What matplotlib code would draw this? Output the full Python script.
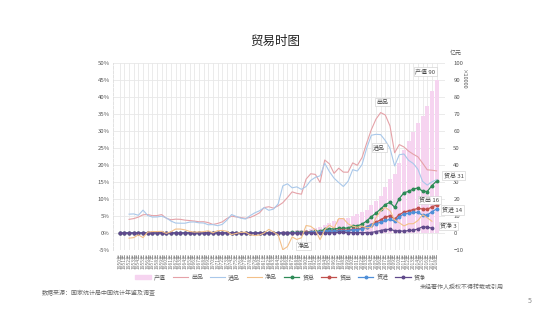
import numpy as np
import matplotlib
matplotlib.use("Agg")
import matplotlib.pyplot as plt
from matplotlib.ticker import FuncFormatter
from matplotlib.patches import Patch
from matplotlib.lines import Line2D

plt.rcParams['font.family'] = ['Noto Sans CJK SC', 'DejaVu Sans']

# years on the x axis
years = list(range(1950, 2019))

# GDP, 亿元 (no data before 1952)
gdp = [np.nan, np.nan,
       679.1, 824.4, 859.8, 911.6, 1030.7, 1071.4, 1312.3, 1447.5,
       1470.1, 1232.3, 1162.2, 1248.3, 1469.9, 1734.0, 1888.7, 1794.2, 1744.1, 1962.2,
       2279.7, 2456.9, 2552.4, 2756.2, 2827.7, 3039.5, 2988.6, 3250.0, 3678.7, 4100.5,
       4587.6, 4935.8, 5373.4, 6020.9, 7278.5, 9098.9, 10376.2, 12174.6, 15180.4, 17179.7,
       18872.9, 22005.6, 27194.5, 35673.2, 48637.5, 61339.9, 71813.6, 79715.0, 85195.5, 90564.4,
       100280.1, 110863.1, 121717.4, 137422.0, 161840.2, 187318.9, 219438.5, 270092.3, 319244.6, 348517.7,
       412119.3, 487940.2, 538580.0, 592963.2, 643563.1, 688858.2, 746395.1, 832035.9, 900309.5]

# exports, 亿元
exports = [20.2, 24.2, 27.1, 34.8, 40.0, 48.7, 55.7, 54.5, 67.0, 78.1,
           63.3, 47.7, 47.1, 50.0, 55.4, 63.1, 66.0, 58.8, 57.6, 59.8,
           56.8, 68.5, 82.9, 116.9, 139.4, 143.0, 134.8, 139.7, 167.6, 211.7,
           271.2, 367.6, 413.8, 438.3, 580.5, 808.9, 1082.1, 1470.0, 1766.7, 1956.0,
           2985.8, 3827.1, 4676.3, 5284.8, 10421.8, 12451.8, 12576.4, 15160.7, 15223.6, 16159.8,
           20634.4, 22024.4, 26947.9, 36287.9, 49103.3, 62648.1, 77597.2, 93563.6, 100394.9, 82029.7,
           107022.8, 123240.6, 129359.3, 137131.4, 143883.8, 141166.8, 138419.3, 153309.4, 164176.7]

# imports, 亿元
imports = [21.3, 35.3, 37.5, 46.1, 44.7, 61.1, 53.0, 50.0, 61.7, 71.2,
           65.1, 43.0, 33.8, 35.7, 42.1, 55.3, 61.1, 53.4, 50.9, 47.2,
           56.1, 52.4, 64.0, 103.6, 152.8, 147.4, 129.3, 132.8, 187.4, 242.9,
           298.8, 367.7, 357.5, 421.8, 620.5, 1257.8, 1498.3, 1614.2, 2055.1, 2199.9,
           2574.3, 3398.7, 4443.3, 5986.2, 9960.1, 11048.1, 11557.4, 11806.5, 11626.1, 13736.4,
           18638.8, 20159.2, 24430.3, 34195.6, 46435.8, 54273.7, 63376.9, 73300.1, 79526.5, 68618.4,
           94699.3, 113161.4, 114801.0, 121037.5, 120358.0, 104336.1, 104967.2, 124789.8, 140873.7]

gdp = np.array(gdp)
exports = np.array(exports)
imports = np.array(imports)
total = exports + imports
net = exports - imports
x = np.arange(len(years))
xn = x[:-1]  # net series stop at 2017

fig = plt.figure(figsize=(5.5, 3.09), dpi=100)
ax2 = fig.add_axes([0.205, 0.191, 0.604, 0.606])
ax = ax2.twinx()
ax.yaxis.tick_left()
ax.set_zorder(ax2.get_zorder() + 1)
ax.patch.set_visible(False)

ms = 1.8
# right axis: values in 万亿元
ax2.bar(x, gdp / 10000, width=0.85, color='#f6d4f0', zorder=1)
ax2.plot(x, total / 10000, color='#2e8b57', lw=0.9, marker='o', ms=ms, zorder=3)
ax2.plot(x, exports / 10000, color='#c0504d', lw=0.9, marker='o', ms=ms, zorder=3)
ax2.plot(x, imports / 10000, color='#4f8fd8', lw=0.9, marker='o', ms=ms, zorder=3)
ax2.plot(xn, net[:-1] / 10000, color='#604a8b', lw=0.9, marker='o', ms=ms, zorder=3)

# left axis: share of GDP
ax.plot(x, exports / gdp, color='#e5a2a8', lw=0.8)
ax.plot(x, imports / gdp, color='#a9c8ea', lw=0.8)
ax.plot(xn, net[:-1] / gdp[:-1], color='#f3c089', lw=0.8)

ax2.set_ylim(-10, 100)
ax2.set_yticks(range(-10, 101, 10))
ax.set_ylim(-0.05, 0.5)
ax.set_yticks(np.arange(-0.05, 0.501, 0.05))
ax.yaxis.set_major_formatter(FuncFormatter(lambda v, p: f'{v*100:.0f}%'))
ax2.yaxis.tick_right()
ax2.set_xlim(-1.5, 69.8)
ax2.set_xticks(x)
ax2.set_xticklabels([f'{y}年' for y in years], rotation=90, fontsize=3.6, color='#777777')
ax2.grid(True, color='#e8e8e8', lw=0.6)
ax2.set_axisbelow(True)

for a in (ax, ax2):
    for s in a.spines.values():
        s.set_visible(False)
    a.tick_params(length=0, pad=2)
ax.spines['left'].set_visible(True)
ax.spines['left'].set_color('#dddddd')
ax.spines['left'].set_linestyle('--')
ax.spines['left'].set_linewidth(0.6)
ax.tick_params(axis='y', labelsize=4.3, labelcolor='#555555')
ax2.tick_params(axis='y', labelsize=4.3, labelcolor='#555555', pad=6)

box = dict(boxstyle='square,pad=0.25', fc='white', ec='#cccccc', lw=0.4)
lab = dict(fontsize=4.3, color='#444444', ha='center', va='center', bbox=box)
ax2.text(65.6, 95, '产值 90', **lab)
ax.text(56.4, 0.384, '出品', **lab)
ax.text(55.7, 0.252, '进品', **lab)
ax.text(39.4, -0.038, '净品', **lab)
ax2.text(71.7, 34, '贸总 31', clip_on=False, **lab)
ax2.text(66.4, 19.3, '贸出 16', **lab)
ax2.text(71.4, 13.5, '贸进 14', clip_on=False, **lab)
ax2.text(70.6, 4.1, '贸净 3', clip_on=False, **lab)

fig.text(0.828, 0.822, '亿元', fontsize=4.3, color='#555555', ha='center')
fig.text(0.842, 0.745, '×10000', fontsize=4, color='#555555', rotation=270, ha='center', va='center')

fig.text(0.5, 0.865, '贸易时图', fontsize=9, color='#222222', ha='center', va='center')

handles = [Patch(color='#f6d4f0'),
           Line2D([], [], color='#e5a2a8', lw=0.8),
           Line2D([], [], color='#a9c8ea', lw=0.8),
           Line2D([], [], color='#f3c089', lw=0.8),
           Line2D([], [], color='#2e8b57', lw=0.9, marker='o', ms=ms),
           Line2D([], [], color='#c0504d', lw=0.9, marker='o', ms=ms),
           Line2D([], [], color='#4f8fd8', lw=0.9, marker='o', ms=ms),
           Line2D([], [], color='#604a8b', lw=0.9, marker='o', ms=ms)]
names = ['产值', '出品', '进品', '净品', '贸总', '贸出', '贸进', '贸净']
fig.legend(handles, names, loc='center', bbox_to_anchor=(0.51, 0.103), ncol=8,
           frameon=False, fontsize=4.3, handlelength=2.6, columnspacing=1.1,
           handletextpad=0.5, labelcolor='#555555')

fig.text(0.076, 0.052, '数据来源：国家统计局中国统计年鉴及调查', fontsize=4.3, color='#666666', va='center')
fig.text(0.84, 0.071, '未经著作人授权不得转载或引用', fontsize=4.3, color='#666666', ha='center', va='center')
fig.text(0.963, 0.026, '5', fontsize=5, color='#888888', ha='center', va='center')

fig.savefig('out.png', dpi=100)
